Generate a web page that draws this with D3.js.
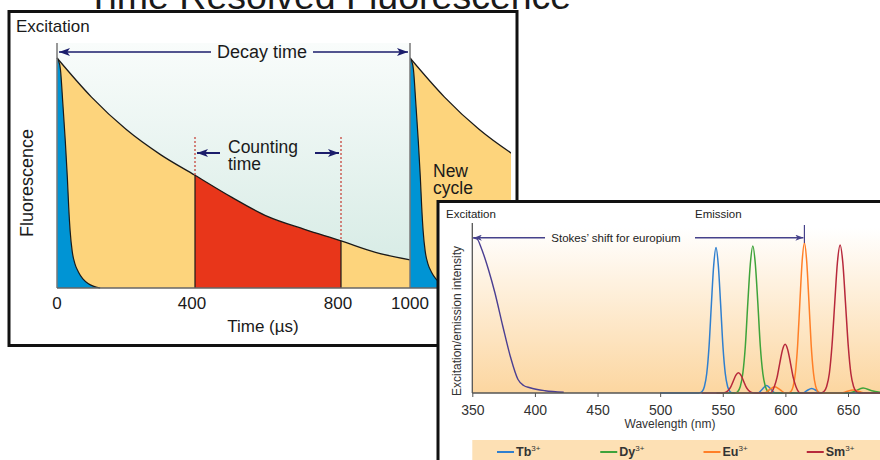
<!DOCTYPE html>
<html>
<head>
<meta charset="utf-8">
<script src="https://cdn.jsdelivr.net/npm/d3@7"></script>
<style>
  body { margin: 0; background: #fff; }
  svg { display: block; }
  text { font-family: Arial, "Liberation Sans", sans-serif; }
</style>
</head>
<body>
<div id="canvas"></div>
<script>
// ---- left panel: time-resolved decay (time in µs, fluorescence in % of peak)
var timeTicks = [0, 400, 800, 1000];
var decayCurve = [[0,100],[100,83],[200,69],[300,58],[400,49],[500,39.5],[600,31],[700,25.5],[800,20.5],[900,15.5],[1000,12.2]];
var promptPulse = [[0,100],[4,99],[10,95],[17,80],[24,64],[30,48],[34,35],[38,25],[44,16],[52,10.5],[62,7],[75,4],[90,2],[105,0.8],[125,0]];
var countingWindow = [400, 800];
var cycleStart = 1000;

// ---- right panel: spectra (wavelength in nm, intensity in %)
var wlTicks = [350, 400, 450, 500, 550, 600, 650];
var excitation = [[350.5,103.5],[354,102.5],[357,97],[360,90],[363,82],[368,67],[374.5,44],[380.5,24],[386.5,9],[391,5],[396,3.5],[408,1.5],[423,0.5]];
var tb = [[500,0],[531,0],[533.5,1],[535.35,4.3],[537.2,13],[539.05,31],[540.9,59],[542.75,85],[544.6,97],[546.45,85],[548.3,59],[550.15,31],[552,13],[553.85,4.3],[555.7,1],[558,0],
  [578,0],[581,2],[585,5],[589,2],[592,0],[614,0],[617,1.5],[621,3],[625,1.5],[628,0],[676,0]];
var dy = [[545,0],[560,0],[562,1],[564,4.3],[566,13],[568,31],[570,60],[572,86],[574,98],[576,86],[578,60],[580,31],[582,13],[584,4.3],[586,1],[588,0],
  [650,0],[655,1],[662,3.3],[669,1.5],[676,0.5]];
var eu = [[560,0],[583,0],[587,2],[591.5,4.2],[596,2],[600,0],[602,0],[604.4,1],[606.2,4.4],[608,13.5],[609.8,32],[611.6,61],[613.4,88],[615.2,100],[617,88],[618.8,61],[620.6,32],[622.4,13.5],[624.2,4.4],[626,1],[628,0],
  [645,0],[649,1],[654,2],[659,1],[663,0],[676,0]];
var sm = [[533,0],[549,0],[552.5,0.6],[554.5,1.8],[556.5,4.3],[558.5,8.2],[560.5,11.9],[562.5,13.5],[564.5,11.9],[566.5,8.2],[568.5,4.3],[570.5,1.8],[572.5,0.6],[576,0],
  [588,0],[591.2,4.4],[593.35,10.4],[595.5,19.8],[597.65,28.6],[599.8,32.5],[601.95,28.6],[604.1,19.8],[606.25,10.4],[608.4,4.4],[612,0],
  [628,0],[630.8,1],[632.95,4.3],[635.1,13],[637.25,32],[639.4,60],[641.55,87],[643.7,98.7],[645.85,87],[648,60],[650.15,32],[652.3,13],[654.45,4.3],[656.6,1],[659,0],[676,0]];
var ions = ["Tb", "Dy", "Eu", "Sm"];
var spectra = [tb, dy, eu, sm];
var ionColors = { Tb: "#2f7fcf", Dy: "#3ea33a", Eu: "#ff7f27", Sm: "#b7283b" };

var svg = d3.select("#canvas").append("svg").attr("width", 880).attr("height", 460);
var defs = svg.append("defs");

createMarker(defs, "navy-head", "#1b1d6b", 11, 8);
createMarker(defs, "purple-head", "#45418a", 8, 6);

var tealGrad = defs.append("linearGradient").attr("id", "teal").attr("x1", 0).attr("y1", 0).attr("x2", 0).attr("y2", 1);
tealGrad.append("stop").attr("offset", "0%").attr("stop-color", "#f9fcfb");
tealGrad.append("stop").attr("offset", "100%").attr("stop-color", "#d4eae3");

var peachGrad = defs.append("linearGradient").attr("id", "peach").attr("x1", 0).attr("y1", 0).attr("x2", 0).attr("y2", 1);
peachGrad.append("stop").attr("offset", "0%").attr("stop-color", "#ffffff");
peachGrad.append("stop").attr("offset", "100%").attr("stop-color", "#fcd6a0");

// title, mostly cut off at the top edge
svg.append("text").attr("x", 87).attr("y", 9).attr("font-size", 37.5).attr("fill", "#1a1a1a")
  .text("Time Resolved Fluorescence");

// ================= left panel =================
var tx = d3.scaleLinear().domain([0, 400, 800, 1000, 1300]).range([57, 195, 341, 410, 513.5]);
var fy = d3.scaleLinear().domain([0, 100]).range([288, 58]);

var left = svg.append("g");
left.append("rect").attr("x", 9).attr("y", 11.5).attr("width", 508).attr("height", 334).attr("fill", "#fff");

defs.append("clipPath").attr("id", "count-clip").append("rect")
  .attr("x", tx(countingWindow[0])).attr("y", 0).attr("width", tx(countingWindow[1]) - tx(countingWindow[0])).attr("height", 300);
defs.append("clipPath").attr("id", "cycle-clip").append("rect")
  .attr("x", tx(cycleStart)).attr("y", 0).attr("width", 511 - tx(cycleStart)).attr("height", 300);

var decayArea = d3.area().x(d => tx(d[0])).y0(fy(0)).y1(d => fy(d[1])).curve(d3.curveMonotoneX);
var decayLine = d3.line().x(d => tx(d[0])).y(d => fy(d[1])).curve(d3.curveMonotoneX);

left.append("rect").attr("x", tx(0)).attr("y", 43).attr("width", tx(1000) - tx(0)).attr("height", fy(0) - 43)
  .attr("fill", "url(#teal)");

left.append("path").attr("d", decayArea(decayCurve)).attr("fill", "#fdd47c");
left.append("path").attr("d", decayArea(decayCurve)).attr("fill", "#e8361a").attr("clip-path", "url(#count-clip)");
left.append("path").attr("d", decayArea(promptPulse)).attr("fill", "#0094d4");
left.append("path").attr("d", decayLine(promptPulse)).attr("fill", "none").attr("stroke", "#1a1a1a").attr("stroke-width", 1.2);
left.append("path").attr("d", decayLine(decayCurve)).attr("fill", "none").attr("stroke", "#1a1a1a").attr("stroke-width", 1.3);

// boundaries of the counting window
left.selectAll("line.window")
  .data(countingWindow)
  .enter()
  .append("line")
  .attr("class", "window")
  .attr("x1", d => tx(d)).attr("x2", d => tx(d))
  .attr("y1", d => fy(decayCurve.find(p => p[0] === d)[1])).attr("y2", fy(0))
  .attr("stroke", "#1a1a1a").attr("stroke-width", 1.2);

// next excitation cycle
var shifted = arr => arr.map(p => [p[0] + cycleStart, p[1]]);
var cycle = left.append("g").attr("clip-path", "url(#cycle-clip)");
cycle.append("path").attr("d", decayArea(shifted(decayCurve))).attr("fill", "#fdd47c");
cycle.append("path").attr("d", decayArea(shifted(promptPulse))).attr("fill", "#0094d4");
cycle.append("path").attr("d", decayLine(shifted(promptPulse))).attr("fill", "none").attr("stroke", "#1a1a1a").attr("stroke-width", 1.2);
cycle.append("path").attr("d", decayLine(shifted(decayCurve))).attr("fill", "none").attr("stroke", "#1a1a1a").attr("stroke-width", 1.3);

// excitation markers and baseline
[0, cycleStart].forEach(t => {
  left.append("line").attr("x1", tx(t)).attr("x2", tx(t)).attr("y1", 43).attr("y2", fy(0))
    .attr("stroke", "#777").attr("stroke-width", 1.5);
});
left.append("line").attr("x1", tx(0)).attr("x2", 440).attr("y1", fy(0)).attr("y2", fy(0))
  .attr("stroke", "#666").attr("stroke-width", 1.5);

// dotted counting markers
left.selectAll("line.dots")
  .data(countingWindow)
  .enter()
  .append("line")
  .attr("x1", d => tx(d)).attr("x2", d => tx(d))
  .attr("y1", 137).attr("y2", d => fy(decayCurve.find(p => p[0] === d)[1]))
  .attr("stroke", "#c9534a").attr("stroke-width", 1.4).attr("stroke-dasharray", "2,2");

// decay time arrow
left.append("line").attr("x1", 211).attr("x2", tx(0) + 2).attr("y1", 52).attr("y2", 52)
  .attr("stroke", "#1b1d6b").attr("stroke-width", 1.5).attr("marker-end", "url(#navy-head)");
left.append("line").attr("x1", 313).attr("x2", tx(cycleStart) - 2).attr("y1", 52).attr("y2", 52)
  .attr("stroke", "#1b1d6b").attr("stroke-width", 1.5).attr("marker-end", "url(#navy-head)");
left.append("text").attr("x", 262).attr("y", 52).attr("dy", "0.35em").attr("text-anchor", "middle")
  .attr("font-size", 18).attr("fill", "#1a1a1a").text("Decay time");

// counting time arrows
left.append("line").attr("x1", 220).attr("x2", tx(countingWindow[0]) + 2).attr("y1", 153).attr("y2", 153)
  .attr("stroke", "#1b1d6b").attr("stroke-width", 2).attr("marker-end", "url(#navy-head)");
left.append("line").attr("x1", 315).attr("x2", tx(countingWindow[1]) - 2).attr("y1", 153).attr("y2", 153)
  .attr("stroke", "#1b1d6b").attr("stroke-width", 2).attr("marker-end", "url(#navy-head)");
left.append("text").attr("x", 228).attr("y", 152.5).attr("font-size", 17.5).attr("fill", "#1a1a1a").text("Counting");
left.append("text").attr("x", 228).attr("y", 169.5).attr("font-size", 17.5).attr("fill", "#1a1a1a").text("time");

left.append("text").attr("x", 433).attr("y", 176.5).attr("font-size", 17.5).attr("fill", "#1a1a1a").text("New");
left.append("text").attr("x", 433).attr("y", 194).attr("font-size", 17.5).attr("fill", "#1a1a1a").text("cycle");

left.append("text").attr("x", 16).attr("y", 32).attr("font-size", 17).attr("fill", "#1a1a1a").text("Excitation");

left.selectAll("text.tick")
  .data(timeTicks)
  .enter()
  .append("text")
  .attr("class", "tick")
  .attr("x", d => tx(d) - (d === 400 || d === 800 ? 3 : 0)).attr("y", 309)
  .attr("text-anchor", "middle").attr("font-size", 17).attr("fill", "#1a1a1a")
  .text(d => d);
left.append("text").attr("x", 263).attr("y", 332).attr("text-anchor", "middle")
  .attr("font-size", 17).attr("fill", "#1a1a1a").text("Time (\u00b5s)");
left.append("text").attr("transform", "translate(33,183) rotate(-90)").attr("text-anchor", "middle")
  .attr("font-size", 18).attr("fill", "#1a1a1a").text("Fluorescence");

left.append("rect").attr("x", 9).attr("y", 11.5).attr("width", 508).attr("height", 334)
  .attr("fill", "none").attr("stroke", "#111").attr("stroke-width", 3);

// ================= right panel =================
var wl = d3.scaleLinear().domain([350, 650]).range([472.3, 848]);
var iy = d3.scaleLinear().domain([0, 100]).range([393, 243]);

var right = svg.append("g");
right.append("rect").attr("x", 438).attr("y", 201.5).attr("width", 470).attr("height", 280)
  .attr("fill", "#fff").attr("stroke", "#111").attr("stroke-width", 3);
right.append("rect").attr("x", wl(350)).attr("y", 228).attr("width", 880 - wl(350)).attr("height", iy(0) - 228)
  .attr("fill", "url(#peach)");

var specLine = d3.line().x(d => wl(d[0])).y(d => iy(d[1])).curve(d3.curveMonotoneX);

right.append("path").attr("d", specLine(excitation)).attr("fill", "none")
  .attr("stroke", "#4b3f92").attr("stroke-width", 1.4);

right.selectAll("path.ion")
  .data(ions)
  .enter()
  .append("path")
  .attr("class", "ion")
  .attr("d", (d, i) => specLine(spectra[i]))
  .attr("fill", "none")
  .attr("stroke", d => ionColors[d])
  .attr("stroke-width", 1.5);

// axes
right.append("line").attr("x1", wl(350)).attr("x2", wl(350)).attr("y1", 223).attr("y2", iy(0))
  .attr("stroke", "#555").attr("stroke-width", 1.3);
var xAxis = right.append("g").attr("transform", "translate(0," + iy(0) + ")")
  .call(d3.axisBottom(wl).tickValues(wlTicks).tickSize(4).tickFormat(d3.format("d")));
xAxis.select(".domain").remove();
xAxis.selectAll("line").attr("stroke", "#555");
xAxis.selectAll("text").attr("font-family", "'Liberation Serif', 'Times New Roman', serif")
  .attr("font-size", 14).attr("fill", "#333").attr("dy", "1.05em");
right.append("line").attr("x1", wl(350)).attr("x2", 880).attr("y1", iy(0)).attr("y2", iy(0))
  .attr("stroke", "#555").attr("stroke-width", 1.3);

right.append("text").attr("x", 670).attr("y", 427.5).attr("text-anchor", "middle")
  .attr("font-size", 12).attr("fill", "#333").text("Wavelength (nm)");
right.append("text").attr("transform", "translate(461,321) rotate(-90)").attr("text-anchor", "middle")
  .attr("font-size", 12).attr("fill", "#333").text("Excitation/emission intensity");
right.append("text").attr("x", 446).attr("y", 218).attr("font-size", 11.5).attr("fill", "#222").text("Excitation");
right.append("text").attr("x", 695).attr("y", 218).attr("font-size", 11.5).attr("fill", "#222").text("Emission");

// Stokes' shift
var euPeak = eu.reduce((a, b) => (b[1] > a[1] ? b : a));
right.append("line").attr("x1", wl(euPeak[0])).attr("x2", wl(euPeak[0])).attr("y1", 225).attr("y2", iy(euPeak[1]))
  .attr("stroke", "#45418a").attr("stroke-width", 1.2);
right.append("line").attr("x1", 545).attr("x2", wl(350) + 1.5).attr("y1", 237.7).attr("y2", 237.7)
  .attr("stroke", "#45418a").attr("stroke-width", 1.4).attr("marker-end", "url(#purple-head)");
right.append("line").attr("x1", 695).attr("x2", wl(euPeak[0]) - 1).attr("y1", 237.7).attr("y2", 237.7)
  .attr("stroke", "#45418a").attr("stroke-width", 1.4).attr("marker-end", "url(#purple-head)");
right.append("text").attr("x", 616).attr("y", 237.7).attr("dy", "0.35em").attr("text-anchor", "middle")
  .attr("font-size", 11.5).attr("fill", "#222").text("Stokes\u2019 shift for europium");

// legend
right.append("rect").attr("x", wl(350)).attr("y", 440).attr("width", 880 - wl(350)).attr("height", 22)
  .attr("fill", "#fde0b4");
var legendX = d3.scaleBand().domain(ions).range([473, 886]);
var item = right.selectAll("g.legend")
  .data(ions)
  .enter()
  .append("g")
  .attr("class", "legend")
  .attr("transform", d => "translate(" + legendX(d) + ",452)");
item.append("line").attr("x1", 24).attr("x2", 41).attr("y1", 0).attr("y2", 0)
  .attr("stroke", d => ionColors[d]).attr("stroke-width", 2);
var label = item.append("text").attr("x", 43).attr("y", 4)
  .attr("font-family", "'Liberation Serif', 'Times New Roman', serif").attr("font-size", 12.5)
  .attr("font-weight", "bold").attr("fill", "#333");
label.append("tspan").text(d => d);
label.append("tspan").attr("dy", -5).attr("font-size", 8).attr("font-weight", "normal").text("3+");

function createMarker(defs, name, color, w, h) {
  return defs.append("marker")
    .attr("id", name)
    .attr("markerUnits", "userSpaceOnUse")
    .attr("markerWidth", w)
    .attr("markerHeight", h)
    .attr("viewBox", "0 0 10 10")
    .attr("refX", 10)
    .attr("refY", 5)
    .attr("orient", "auto-start-reverse")
    .attr("preserveAspectRatio", "none")
    .append("path")
    .attr("d", "M 0 0 L 10 5 L 0 10 L 2.5 5 z")
    .attr("fill", color);
}
</script>
</body>
</html>
